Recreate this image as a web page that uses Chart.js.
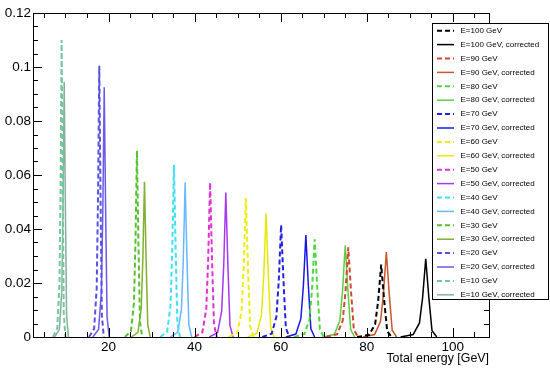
<!DOCTYPE html>
<html>
<head>
<meta charset="utf-8">
<script src="https://cdn.jsdelivr.net/npm/chart.js@4/dist/chart.umd.min.js"></script>
<style>
  body { margin: 0; background: #fff; }
  #wrap { width: 550px; height: 370px; }
</style>
</head>
<body>
<div id="wrap"><canvas id="energyChart"></canvas></div>
<script>
// beam energies, legend order (uncorrected then corrected)
var energies = [100, 90, 80, 70, 60, 50, 40, 30, 20, 10];

// peak shapes, [energy GeV, fraction]
var e100 = [[77.75, 0], [80.55, 0.0008], [81.95, 0.0048], [82.65, 0.0134], [83.35, 0.0268], [84.05, 0.0134], [84.75, 0.0021], [85.8, 0]];
var e100c = [[87.86, 0], [90.78, 0.0009], [92.24, 0.0052], [92.97, 0.0145], [93.7, 0.029], [94.43, 0.0145], [95.16, 0.0023], [96.26, 0]];
var e90 = [[70.5, 0], [73.1, 0.001], [74.4, 0.006], [75.05, 0.0166], [75.7, 0.0332], [76.35, 0.0166], [77.0, 0.0027], [77.98, 0]];
var e90c = [[79.11, 0], [81.83, 0.0009], [83.19, 0.0057], [83.87, 0.0158], [84.55, 0.0315], [85.23, 0.0158], [85.91, 0.0025], [86.93, 0]];
var e80 = [[63.1, 0], [65.5, 0.0011], [66.7, 0.0065], [67.3, 0.0181], [67.9, 0.0362], [68.5, 0.0181], [69.1, 0.0029], [70.0, 0]];
var e80c = [[69.96, 0], [72.48, 0.001], [73.74, 0.0061], [74.37, 0.017], [75.0, 0.034], [75.63, 0.017], [76.26, 0.0027], [77.21, 0]];
var e70 = [[55.7, 0], [57.9, 0.0012], [59.0, 0.0075], [59.55, 0.0208], [60.1, 0.0415], [60.65, 0.0208], [61.2, 0.0033], [62.03, 0]];
var e70c = [[61.21, 0], [63.53, 0.0011], [64.69, 0.0068], [65.27, 0.0189], [65.85, 0.0378], [66.43, 0.0189], [67.01, 0.003], [67.88, 0]];
var e60 = [[47.9, 0], [49.9, 0.0015], [50.9, 0.0093], [51.4, 0.0258], [51.9, 0.0515], [52.4, 0.0258], [52.9, 0.0041], [53.65, 0]];
var e60c = [[52.36, 0], [54.48, 0.0014], [55.54, 0.0082], [56.07, 0.0229], [56.6, 0.0458], [57.13, 0.0229], [57.66, 0.0037], [58.46, 0]];
var e50 = [[40.0, 0], [41.8, 0.0017], [42.7, 0.0103], [43.15, 0.0286], [43.6, 0.0572], [44.05, 0.0286], [44.5, 0.0046], [45.18, 0]];
var e50c = [[43.41, 0], [45.33, 0.0016], [46.29, 0.0096], [46.77, 0.0268], [47.25, 0.0535], [47.73, 0.0268], [48.21, 0.0043], [48.93, 0]];
var e40 = [[32.0, 0], [33.6, 0.0019], [34.4, 0.0115], [34.8, 0.0319], [35.2, 0.0638], [35.6, 0.0319], [36.0, 0.0051], [36.6, 0]];
var e40c = [[34.36, 0], [36.08, 0.0017], [36.94, 0.0103], [37.37, 0.0286], [37.8, 0.0572], [38.23, 0.0286], [38.66, 0.0046], [39.31, 0]];
var e30 = [[23.8, 0], [25.2, 0.0021], [25.9, 0.0124], [26.25, 0.0345], [26.6, 0.069], [26.95, 0.0345], [27.3, 0.0055], [27.83, 0]];
var e30c = [[25.31, 0], [26.83, 0.0017], [27.59, 0.0104], [27.97, 0.0288], [28.35, 0.0575], [28.73, 0.0288], [29.11, 0.0046], [29.68, 0]];
var e20 = [[15.45, 0], [16.65, 0.003], [17.25, 0.0181], [17.55, 0.0503], [17.85, 0.1005], [18.15, 0.0503], [18.45, 0.008], [18.9, 0]];
var e20c = [[16.36, 0], [17.68, 0.0028], [18.34, 0.0167], [18.67, 0.0463], [19.0, 0.0925], [19.33, 0.0463], [19.66, 0.0074], [20.16, 0]];
var e10 = [[7.1, 0], [8.1, 0.0033], [8.6, 0.0198], [8.85, 0.055], [9.1, 0.11], [9.35, 0.055], [9.6, 0.0088], [9.98, 0]];
var e10c = [[7.46, 0], [8.58, 0.0028], [9.14, 0.017], [9.42, 0.0473], [9.7, 0.0945], [9.98, 0.0473], [10.26, 0.0076], [10.68, 0]];

var rawSets = [e100, e100c, e90, e90c, e80, e80c, e70, e70c, e60, e60c, e50, e50c, e40, e40c, e30, e30c, e20, e20c, e10, e10c];

var xTicks = [20, 40, 60, 80, 100];
var yTicks = [0, 0.02, 0.04, 0.06, 0.08, 0.1, 0.12];

var lineColors = [
  "#000000", "#000000",
  "#d04830", "#c8582a",
  "#50d840", "#5cd040",
  "#2222e0", "#1818e8",
  "#eeee10", "#e8e800",
  "#e030d8", "#a838f0",
  "#40e0f8", "#68b8ff",
  "#58c030", "#80b030",
  "#5850e0", "#6a5ae8",
  "#70c8a0", "#88b098",
];

var FONT = "'Liberation Sans', Arial, sans-serif";

var datasets = [];
rawSets.forEach(function (pts, i) {
  var e = energies[Math.floor(i / 2)];
  var corrected = i % 2 == 1;
  datasets.push({
    label: "E=" + e + " GeV" + (corrected ? ", corrected" : ""),
    data: pts.map(function (p) { return { x: p[0], y: p[1] }; }),
    borderColor: lineColors[i],
    borderWidth: corrected ? 1.5 : 2,
    borderDash: corrected ? [] : [5, 3],
    pointRadius: 0,
    tension: 0,
    fill: false,
  });
});

// ROOT style frame: box with inward ticks on all sides, legend on top
var rootFrame = {
  id: "rootFrame",
  afterDatasetsDraw: function (chart) {
    var ctx = chart.ctx;
    var a = chart.chartArea;
    var xs = chart.scales.x;
    var ys = chart.scales.y;
    ctx.save();
    ctx.strokeStyle = "#000";
    ctx.lineWidth = 1;
    ctx.strokeRect(a.left + 0.5, a.top + 0.5, a.right - a.left, a.bottom - a.top);
    ctx.beginPath();
    for (var v = 5; v < xs.max; v += 5) {
      if (v < xs.min) continue;
      var px = Math.round(xs.getPixelForValue(v)) + 0.5;
      var len = v % 20 == 0 ? 9 : 5;
      ctx.moveTo(px, a.bottom); ctx.lineTo(px, a.bottom - len);
      ctx.moveTo(px, a.top); ctx.lineTo(px, a.top + len);
    }
    for (var k = 1; k < 24; k++) {
      var yv = k * 0.005;
      var py = Math.round(ys.getPixelForValue(yv)) + 0.5;
      var ylen = k % 4 == 0 ? 9 : 5;
      ctx.moveTo(a.left, py); ctx.lineTo(a.left + ylen, py);
      ctx.moveTo(a.right, py); ctx.lineTo(a.right - ylen, py);
    }
    ctx.stroke();
    ctx.restore();
  },
  afterDraw: function (chart) {
    var ctx = chart.ctx;
    var bx = 432.5, by = 23.5, bw = 116, bh = 276;
    ctx.save();
    ctx.fillStyle = "#fff";
    ctx.fillRect(bx, by, bw, bh);
    ctx.strokeStyle = "#000";
    ctx.lineWidth = 1;
    ctx.strokeRect(bx, by, bw, bh);
    ctx.font = "8px " + FONT;
    ctx.textBaseline = "middle";
    ctx.fillStyle = "#000";
    chart.data.datasets.forEach(function (ds, i) {
      var y = 30.7 + i * 13.9;
      ctx.beginPath();
      ctx.strokeStyle = ds.borderColor;
      ctx.lineWidth = ds.borderWidth;
      ctx.setLineDash(ds.borderDash);
      ctx.moveTo(437, y);
      ctx.lineTo(454, y);
      ctx.stroke();
      ctx.setLineDash([]);
      ctx.fillText(ds.label, 460.5, y);
    });
    ctx.restore();
  },
};

new Chart("energyChart", {
  type: "line",
  data: { datasets: datasets },
  options: {
    responsive: true,
    maintainAspectRatio: false,
    animation: false,
    layout: { padding: { top: 13, right: 61, left: 0, bottom: 0 } },
    plugins: {
      legend: { display: false },
      tooltip: { enabled: false },
    },
    scales: {
      x: {
        type: "linear",
        min: 2.45,
        max: 108.4,
        grid: { display: false, drawTicks: false, tickLength: 0 },
        border: { display: false },
        afterBuildTicks: function (s) {
          s.ticks = xTicks.map(function (v) { return { value: v }; });
        },
        afterFit: function (s) { s.height = 33; },
        ticks: {
          padding: 2,
          color: "#000",
          maxRotation: 0,
          font: { family: FONT, size: 13.5 },
        },
        title: {
          display: true,
          text: "Total energy [GeV]",
          align: "end",
          color: "#000",
          padding: { top: 0, bottom: 4 },
          font: { family: FONT, size: 12.4 },
        },
      },
      y: {
        min: 0,
        max: 0.12,
        grid: { display: false, drawTicks: false, tickLength: 0 },
        border: { display: false },
        afterBuildTicks: function (s) {
          s.ticks = yTicks.map(function (v) { return { value: v }; });
        },
        afterFit: function (s) { s.width = 33; },
        ticks: {
          padding: 2,
          color: "#000",
          font: { family: FONT, size: 13.5 },
          callback: function (v) { return v === 0 ? "0" : String(+v.toFixed(2)); },
        },
      },
    },
  },
  plugins: [rootFrame],
});
</script>
</body>
</html>
